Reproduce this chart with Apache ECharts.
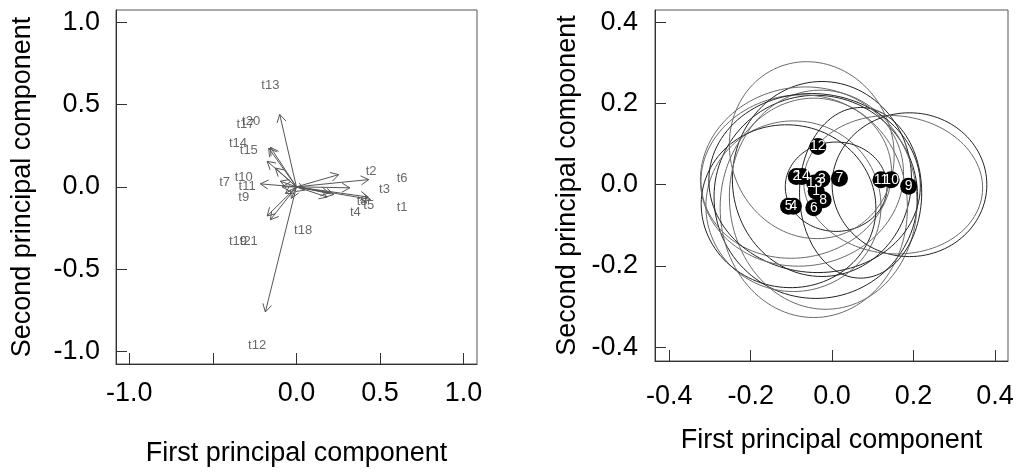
<!DOCTYPE html>
<html><head><meta charset="utf-8">
<script src="https://cdn.jsdelivr.net/npm/echarts@6/dist/echarts.min.js"></script>
<style>html,body{margin:0;padding:0;background:#fff}
#wrap{position:relative;width:1018px;height:472px}
#L{position:absolute;left:0;top:0;width:500px;height:472px}
#R{position:absolute;left:500px;top:0;width:518px;height:472px}</style>
</head><body><div id="wrap"><div id="L"></div><div id="R"></div></div>
<script>
// ---- tick values / labels ----
var leftTicks = [-1.0, -0.5, 0.0, 0.5, 1.0];
var leftXTickLabels = ['-1.0', '', '0.0', '0.5', '1.0'];
var leftYTickLabels = ['-1.0', '-0.5', '0.0', '0.5', '1.0'];
var rightTicks = [-0.4, -0.2, 0.0, 0.2, 0.4];
var rightTickLabels = ['-0.4', '-0.2', '0.0', '0.2', '0.4'];

// ---- left panel: loading arrows (tips, from origin) ----
var arrowTipX = [0.253, 0.433, 0.32, 0.43, 0.443, 0.224, 0.194, 0.184, -0.10, -0.186, -0.216, -0.166, -0.155, -0.175, -0.126, -0.096, -0.086, -0.066, -0.156, -0.175, -0.03, 0.05];
var arrowTipY = [0.074, 0.044, -0.006, -0.062, -0.076, -0.046, -0.036, -0.062, 0.44, -0.76, 0.018, 0.235, 0.24, 0.155, 0.114, 0.034, 0.0, -0.04, -0.20, -0.177, -0.07, -0.02];

// ---- left panel: variable labels ----
var varNames  = ['t13', 't20', 't17', 't14', 't15', 't10', 't7', 't11', 't9', 't19', 't21', 't18', 't12', 't2', 't6', 't3', 't1', 't8', 't5', 't4'];
var varLabelX = [-0.156, -0.271, -0.305, -0.35, -0.285, -0.315, -0.43, -0.295, -0.315, -0.35, -0.285, 0.04, -0.235, 0.447, 0.633, 0.527, 0.633, 0.393, 0.433, 0.353];
var varLabelY = [0.614, 0.398, 0.378, 0.265, 0.219, 0.06, 0.024, 0.0, -0.066, -0.33, -0.33, -0.267, -0.966, 0.095, 0.054, -0.018, -0.122, -0.086, -0.11, -0.157];

// ---- right panel: site scores ----
var siteNames = ['1', '2', '3', '4', '5', '6', '7', '8', '9', '10', '11', '12', '13', '14'];
var siteX = [-0.039, -0.088, -0.025, -0.095, -0.107, -0.045, 0.018, -0.022, 0.188, 0.145, 0.120, -0.035, -0.043, -0.074];
var siteY = [-0.016, 0.020, 0.014, -0.053, -0.053, -0.057, 0.016, -0.037, -0.004, 0.012, 0.012, 0.094, 0.004, 0.020];

// ---- right panel: confidence ellipses (centre, semi-axes, rotation deg) ----
var ellCX = [-0.04, -0.088, -0.025, -0.095, -0.107, -0.045, 0.01, -0.022, 0.19, 0.15, 0.07, -0.05, -0.043, -0.074];
var ellCY = [-0.03, 0.02, 0.014, -0.053, -0.053, -0.057, -0.005, -0.037, 0.0, 0.0, -0.02, 0.085, 0.004, 0.02];
var ellRX = [0.25, 0.235, 0.22, 0.215, 0.215, 0.23, 0.125, 0.23, 0.19, 0.22, 0.15, 0.20, 0.26, 0.25];
var ellRY = [0.25, 0.20, 0.24, 0.21, 0.20, 0.27, 0.11, 0.27, 0.177, 0.17, 0.21, 0.22, 0.22, 0.22];
var ellAng = [0, 10, 0, 0, -10, 0, 0, 5, 0, -5, 0, 20, -5, 8];

var FONT = 'Liberation Sans';

function zip(a, b) { return a.map(function (v, i) { return [v, b[i]]; }); }

function axisCommon(ticks, labels, margin) {
  return {
    type: 'value',
    axisLine: { show: true, onZero: false, lineStyle: { color: '#333', width: 1 } },
    axisTick: { show: true, inside: true, length: 11, customValues: ticks, lineStyle: { color: '#333' } },
    axisLabel: {
      show: true, customValues: ticks, margin: margin, color: '#000', fontSize: 27, fontFamily: FONT,
      formatter: function (v) { var i = ticks.indexOf(+(+v).toFixed(2)); return i >= 0 ? labels[i] : ''; }
    },
    splitLine: { show: false },
    nameLocation: 'middle',
    nameTextStyle: { color: '#000', fontSize: 27, fontFamily: FONT }
  };
}

// ================= LEFT PANEL =================
var xL = axisCommon(leftTicks, leftXTickLabels, 16);
xL.min = -1.08; xL.max = 1.081; xL.name = 'First principal component'; xL.nameGap = 76;
var yL = axisCommon(leftTicks, leftYTickLabels, 16);
yL.min = -1.076; yL.max = 1.074; yL.name = 'Second principal component'; yL.nameGap = 80;

var chartL = echarts.init(document.getElementById('L'), null, { renderer: 'canvas' });
chartL.setOption({
  animation: false,
  backgroundColor: '#fff',
  grid: { left: 116, top: 10, width: 361, height: 358, show: true, borderColor: '#555', borderWidth: 1, containLabel: false },
  xAxis: xL,
  yAxis: yL,
  series: [
    {
      type: 'custom', silent: true,
      data: zip(arrowTipX, arrowTipY), encode: { x: 0, y: 1 },
      renderItem: function (params, api) {
        var i = params.dataIndex;
        var o = api.coord([0, 0]);
        var t = api.coord([arrowTipX[i], arrowTipY[i]]);
        var ang = Math.atan2(t[1] - o[1], t[0] - o[0]);
        var L = 9, a = Math.PI / 6;
        var p1 = [t[0] - L * Math.cos(ang - a), t[1] - L * Math.sin(ang - a)];
        var p2 = [t[0] - L * Math.cos(ang + a), t[1] - L * Math.sin(ang + a)];
        var col = '#555';
        return {
          type: 'group', children: [
            { type: 'line', shape: { x1: o[0], y1: o[1], x2: t[0], y2: t[1] }, style: { stroke: col, lineWidth: 1 } },
            { type: 'polyline', shape: { points: [p1, t, p2] }, style: { stroke: col, fill: null, lineWidth: 1 } }
          ]
        };
      }
    },
    {
      type: 'scatter', silent: true,
      data: zip(varLabelX, varLabelY), symbolSize: 1, itemStyle: { color: 'rgba(0,0,0,0)' },
      label: {
        show: true, position: 'inside', color: '#444', fontSize: 13, fontFamily: FONT,
        formatter: function (p) { return varNames[p.dataIndex]; }
      }
    }
  ]
});

// ================= RIGHT PANEL =================
var xR = axisCommon(rightTicks, rightTickLabels, 22);
xR.min = -0.435; xR.max = 0.432; xR.name = 'First principal component'; xR.nameGap = 66;
var yR = axisCommon(rightTicks, rightTickLabels, 17);
yR.min = -0.434; yR.max = 0.430; yR.name = 'Second principal component'; yR.nameGap = 74;

function ellipsePoints(api, i) {
  var cx = ellCX[i], cy = ellCY[i], rx = ellRX[i], ry = ellRY[i], an = ellAng[i] * Math.PI / 180;
  var pts = [];
  for (var k = 0; k <= 120; k++) {
    var th = k / 120 * 2 * Math.PI;
    var ex = rx * Math.cos(th), ey = ry * Math.sin(th);
    pts.push(api.coord([cx + ex * Math.cos(an) - ey * Math.sin(an), cy + ex * Math.sin(an) + ey * Math.cos(an)]));
  }
  return pts;
}

var chartR = echarts.init(document.getElementById('R'), null, { renderer: 'canvas' });
chartR.setOption({
  animation: false,
  backgroundColor: '#fff',
  grid: { left: 155, top: 10, width: 353, height: 351, show: true, borderColor: '#555', borderWidth: 1, containLabel: false },
  xAxis: xR,
  yAxis: yR,
  series: [
    {
      type: 'custom', silent: true, clip: false,
      data: [[ellCX[0], ellCY[0]]], encode: { x: 0, y: 1 },
      renderItem: function (params, api) {
        var children = [];
        for (var i = 0; i < ellCX.length; i++) {
          children.push({
            type: 'polyline', shape: { points: ellipsePoints(api, i) },
            style: { stroke: i % 2 ? '#6a6a6a' : '#222', fill: null, lineWidth: 1 }
          });
        }
        return { type: 'group', children: children };
      }
    },
    {
      type: 'scatter', silent: true,
      data: zip(siteX, siteY), symbol: 'circle', symbolSize: 17, itemStyle: { color: '#000', opacity: 1 },
      label: {
        show: true, position: 'inside', color: '#fff', fontSize: 14, fontFamily: FONT,
        formatter: function (p) { return siteNames[p.dataIndex]; }
      }
    }
  ]
});
</script>
</body></html>
